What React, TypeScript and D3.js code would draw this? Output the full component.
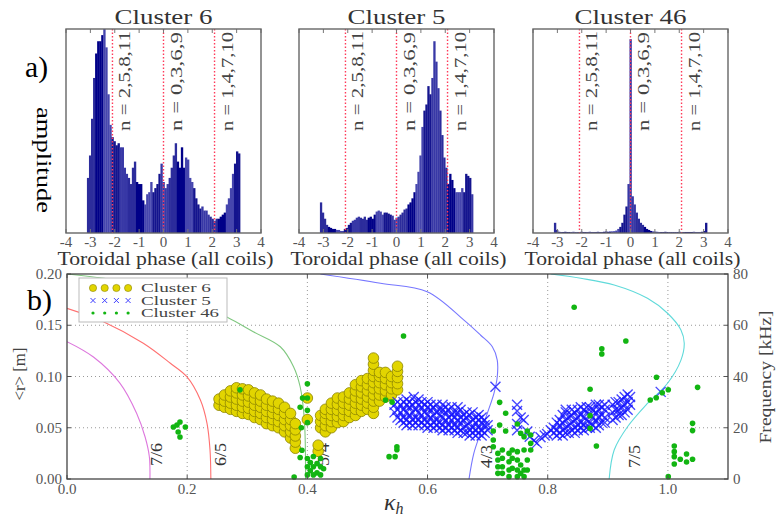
import React from 'react';
import * as d3 from 'd3';

// ---------- top panels (histograms of toroidal phase) ----------
const phaseTicks = [-4, -3, -2, -1, 0, 1, 2, 3, 4];
const panelTitles = ['Cluster 6', 'Cluster 5', 'Cluster 46'];
const modePhases = [-2.094, 0, 2.094];
const modeLabels = ['n = 2,5,8,11', 'n = 0,3,6,9', 'n = 1,4,7,10'];

const hist6 = [
  0.27, 0.38, 0.56, 0.76, 0.88, 0.94, 0.94, 0.97, 1.0, 0.91, 0.68, 0.53, 0.47, 0.45, 0.43,
  0.44, 0.42, 0.42, 0.32, 0.29, 0.27, 0.24, 0.32, 0.35, 0.25, 0.24, 0.24, 0.16, 0.14, 0.19,
  0.2, 0.25, 0.2, 0.22, 0.24, 0.29, 0.34, 0.25, 0.22, 0.24, 0.27, 0.32, 0.38, 0.44, 0.35,
  0.32, 0.42, 0.32, 0.37, 0.36, 0.27, 0.25, 0.22, 0.17, 0.14, 0.12, 0.13, 0.11, 0.11, 0.09,
  0.08, 0.07, 0.06, 0.07, 0.07, 0.08, 0.09, 0.1, 0.14, 0.17, 0.22, 0.29, 0.34, 0.4, 0.39,
];
const hist5 = [
  0.15, 0.1, 0.07, 0.04, 0.03, 0.025, 0.02, 0.02, 0.015, 0.015, 0.01, 0.01, 0.02, 0.025, 0.04,
  0.05, 0.06, 0.065, 0.075, 0.08, 0.075, 0.07, 0.08, 0.065, 0.075, 0.08, 0.07, 0.09, 0.105, 0.11,
  0.105, 0.09, 0.1, 0.1, 0.095, 0.09, 0.085, 0.065, 0.075, 0.08, 0.09, 0.1, 0.115, 0.12, 0.14,
  0.15, 0.17, 0.2, 0.24, 0.3, 0.38, 0.52, 0.6, 0.63, 0.72, 0.68, 0.76, 0.94, 0.84, 0.71,
  0.6, 0.48, 0.37, 0.32, 0.24, 0.29, 0.26, 0.22, 0.2, 0.2, 0.2, 0.22, 0.2, 0.29, 0.28, 0.27, 0.19,
];
const hist46 = [
  0.05, 0.015, 0.006, 0.005, 0.005, 0.006, 0.005, 0.005, 0.005, 0.006, 0.005, 0.005, 0.005, 0.006, 0.005,
  0.005, 0.005, 0.006, 0.005, 0.005, 0.005, 0.006, 0.005, 0.005, 0.006, 0.007, 0.006, 0.007, 0.008, 0.009,
  0.012, 0.02, 0.03, 0.05, 0.09, 0.13, 0.24, 0.95, 0.18, 0.14, 0.1, 0.07, 0.05, 0.04, 0.03,
  0.02, 0.015, 0.01, 0.008, 0.007, 0.006, 0.005, 0.005, 0.005, 0.006, 0.005, 0.005, 0.005, 0.005, 0.005,
  0.005, 0.006, 0.005, 0.005, 0.005, 0.005, 0.005, 0.005, 0.006, 0.005, 0.005, 0.005, 0.006, 0.01, 0.05,
];
const histograms = [hist6, hist5, hist46];

// ---------- bottom panel ----------
const kappaTicks = [0, 0.2, 0.4, 0.6, 0.8, 1.0];
const rTicks = [0, 0.05, 0.1, 0.15, 0.2];
const freqTicks = [0, 20, 40, 60, 80];
const legendNames = ['Cluster 6', 'Cluster 5', 'Cluster 46'];

// resonance curves [kappa, r]
const curve76: [number, number][] = [
  [0, 0.134], [0.044, 0.119], [0.088, 0.0936], [0.116, 0.064], [0.13, 0.041], [0.137, 0.022], [0.138, 0.0],
];
const curve65: [number, number][] = [
  [0, 0.1665], [0.0606, 0.1535], [0.127, 0.1324], [0.172, 0.1129], [0.1994, 0.0998], [0.222, 0.077],
  [0.233, 0.0543], [0.238, 0.0283], [0.2394, 0.0],
];
const curve54: [number, number][] = [
  [0, 0.2], [0.1, 0.192], [0.2, 0.176], [0.266, 0.158], [0.31, 0.1437], [0.355, 0.129], [0.377, 0.1096],
  [0.388, 0.09], [0.395, 0.0576], [0.397, 0.0],
];
const curve43: [number, number][] = [
  [0.4217, 0.2], [0.5217, 0.191], [0.5994, 0.1827], [0.6606, 0.155], [0.688, 0.1405], [0.7078, 0.129],
  [0.716, 0.116], [0.716, 0.0998], [0.7105, 0.0836], [0.6994, 0.064], [0.688, 0.0446], [0.677, 0.025], [0.669, 0.0],
];
const curve75: [number, number][] = [
  [0.805, 0.2], [0.855, 0.1958], [0.9106, 0.1893], [0.966, 0.1763], [0.9994, 0.1617], [1.0217, 0.1454],
  [1.0272, 0.1324], [1.0217, 0.116], [0.9994, 0.0934], [0.966, 0.0738], [0.9328, 0.051], [0.9106, 0.0283], [0.9022, 0.0],
];
const curves = [curve76, curve65, curve54, curve43, curve75];
const curveNames = ['7/6', '6/5', '5/4', '4/3', '7/5'];
const curveColors = ['#dd77dd', '#ff7070', '#80c880', '#7777ff', '#60dada'];

// Cluster 6 : [kappa, r (m)]
const cluster6: [number, number][] = [
  [0.253, 0.072], [0.253, 0.078],
  [0.262, 0.07], [0.262, 0.076], [0.262, 0.082],
  [0.272, 0.068], [0.272, 0.074], [0.272, 0.08], [0.272, 0.086],
  [0.282, 0.066], [0.282, 0.072], [0.282, 0.078], [0.282, 0.084], [0.282, 0.089],
  [0.292, 0.064], [0.292, 0.07], [0.292, 0.076], [0.292, 0.082], [0.292, 0.088],
  [0.302, 0.063], [0.302, 0.069], [0.302, 0.075], [0.302, 0.081], [0.302, 0.087],
  [0.312, 0.06], [0.312, 0.066], [0.312, 0.072], [0.312, 0.078], [0.312, 0.084],
  [0.322, 0.058], [0.322, 0.064], [0.322, 0.07], [0.322, 0.076], [0.322, 0.082],
  [0.332, 0.054], [0.332, 0.06], [0.332, 0.066], [0.332, 0.072], [0.332, 0.078],
  [0.342, 0.052], [0.342, 0.058], [0.342, 0.064], [0.342, 0.07], [0.342, 0.076],
  [0.352, 0.05], [0.352, 0.056], [0.352, 0.062], [0.352, 0.068], [0.352, 0.074],
  [0.362, 0.046], [0.362, 0.052], [0.362, 0.058], [0.362, 0.064], [0.362, 0.07],
  [0.372, 0.04], [0.372, 0.046], [0.372, 0.052], [0.372, 0.058], [0.372, 0.064],
  [0.38, 0.03], [0.38, 0.036], [0.38, 0.042], [0.38, 0.048], [0.38, 0.054],
  [0.4, 0.079], [0.4, 0.058],
  [0.418, 0.027], [0.418, 0.033],
  [0.422, 0.05], [0.422, 0.056], [0.422, 0.062],
  [0.43, 0.046], [0.43, 0.052], [0.43, 0.058], [0.43, 0.064], [0.43, 0.068],
  [0.44, 0.05], [0.44, 0.056], [0.44, 0.062], [0.44, 0.068], [0.44, 0.074],
  [0.45, 0.055], [0.45, 0.061], [0.45, 0.067], [0.45, 0.073], [0.45, 0.079],
  [0.46, 0.056], [0.46, 0.062], [0.46, 0.068], [0.46, 0.074], [0.46, 0.08],
  [0.47, 0.06], [0.47, 0.066], [0.47, 0.072], [0.47, 0.078], [0.47, 0.084],
  [0.48, 0.062], [0.48, 0.068], [0.48, 0.074], [0.48, 0.08], [0.48, 0.086], [0.48, 0.092],
  [0.49, 0.066], [0.49, 0.072], [0.49, 0.078], [0.49, 0.084], [0.49, 0.09], [0.49, 0.096],
  [0.5, 0.068], [0.5, 0.074], [0.5, 0.08], [0.5, 0.086], [0.5, 0.092], [0.5, 0.098],
  [0.51, 0.064], [0.51, 0.07], [0.51, 0.076], [0.51, 0.082], [0.51, 0.088], [0.51, 0.094], [0.51, 0.1], [0.51, 0.106], [0.51, 0.112], [0.51, 0.118],
  [0.52, 0.076], [0.52, 0.082], [0.52, 0.088], [0.52, 0.094], [0.52, 0.1], [0.52, 0.104],
  [0.53, 0.08], [0.53, 0.086], [0.53, 0.092], [0.53, 0.098], [0.53, 0.104],
  [0.54, 0.082], [0.54, 0.088], [0.54, 0.094], [0.54, 0.1],
  [0.55, 0.087], [0.55, 0.093], [0.55, 0.099], [0.55, 0.105], [0.55, 0.11],
];

// Cluster 5 : [kappa, frequency (kHz)]
const cluster5: [number, number][] = [
  [0.545, 26], [0.545, 29],
  [0.55, 24], [0.55, 27], [0.55, 30],
  [0.555, 23], [0.555, 26], [0.555, 29],
  [0.56, 22], [0.56, 24], [0.56, 27], [0.56, 30],
  [0.565, 21], [0.565, 23], [0.565, 26], [0.565, 29], [0.565, 31],
  [0.57, 22], [0.57, 25], [0.57, 28], [0.57, 30],
  [0.575, 21], [0.575, 23], [0.575, 26], [0.575, 29],
  [0.58, 22], [0.58, 24], [0.58, 27], [0.58, 30],
  [0.585, 21], [0.585, 23], [0.585, 26], [0.585, 29], [0.585, 31],
  [0.59, 22], [0.59, 25], [0.59, 28], [0.59, 30],
  [0.595, 21], [0.595, 23], [0.595, 26], [0.595, 29],
  [0.6, 20], [0.6, 22], [0.6, 25], [0.6, 28], [0.6, 30],
  [0.605, 21], [0.605, 24], [0.605, 27], [0.605, 29],
  [0.61, 20], [0.61, 22], [0.61, 25], [0.61, 28],
  [0.615, 21], [0.615, 23], [0.615, 26], [0.615, 29],
  [0.62, 20], [0.62, 22], [0.62, 25], [0.62, 27],
  [0.625, 19], [0.625, 21], [0.625, 24], [0.625, 27], [0.625, 29],
  [0.63, 20], [0.63, 23], [0.63, 26], [0.63, 28],
  [0.635, 19], [0.635, 21], [0.635, 24], [0.635, 27],
  [0.64, 20], [0.64, 23], [0.64, 25], [0.64, 28],
  [0.645, 19], [0.645, 21], [0.645, 24], [0.645, 26],
  [0.65, 18], [0.65, 20], [0.65, 23], [0.65, 26], [0.65, 28],
  [0.655, 19], [0.655, 22], [0.655, 24], [0.655, 27],
  [0.66, 18], [0.66, 20], [0.66, 23], [0.66, 25],
  [0.665, 18], [0.665, 21], [0.665, 24], [0.665, 26],
  [0.67, 17], [0.67, 19], [0.67, 22], [0.67, 25],
  [0.675, 18], [0.675, 20], [0.675, 23], [0.675, 26],
  [0.68, 17], [0.68, 19], [0.68, 22], [0.68, 24],
  [0.685, 18], [0.685, 20], [0.685, 23], [0.685, 25],
  [0.69, 17], [0.69, 19], [0.69, 22], [0.69, 24],
  [0.695, 18], [0.695, 21], [0.695, 23],
  [0.7, 19], [0.7, 21],
  [0.577, 32], [0.713, 36],
  [0.749, 29], [0.749, 26.5], [0.749, 21.5], [0.749, 19], [0.755, 24], [0.76, 23], [0.766, 18.5],
  [0.77, 16.5], [0.777, 15], [0.782, 14], [0.788, 16.3], [0.795, 17], [0.799, 17.6], [0.805, 19], [0.83, 27],
  [0.81, 18], [0.81, 20],
  [0.815, 17], [0.815, 19], [0.815, 22],
  [0.82, 18], [0.82, 21], [0.82, 23],
  [0.825, 17], [0.825, 19], [0.825, 22], [0.825, 25],
  [0.83, 18], [0.83, 20], [0.83, 23], [0.83, 26],
  [0.835, 18], [0.835, 21], [0.835, 24],
  [0.84, 19], [0.84, 22], [0.84, 25], [0.84, 27],
  [0.845, 18], [0.845, 20], [0.845, 23], [0.845, 26],
  [0.85, 19], [0.85, 21], [0.85, 24], [0.85, 27],
  [0.855, 20], [0.855, 22], [0.855, 25], [0.855, 28],
  [0.86, 19], [0.86, 21], [0.86, 24], [0.86, 27],
  [0.865, 20], [0.865, 23], [0.865, 26], [0.865, 28],
  [0.87, 20], [0.87, 22], [0.87, 25], [0.87, 28],
  [0.875, 21], [0.875, 24], [0.875, 27],
  [0.88, 20], [0.88, 23], [0.88, 26], [0.88, 29],
  [0.885, 21], [0.885, 24], [0.885, 27], [0.885, 29],
  [0.89, 22], [0.89, 25], [0.89, 28],
  [0.895, 22], [0.895, 24], [0.895, 27], [0.895, 29],
  [0.908, 23], [0.908, 26], [0.908, 29],
  [0.913, 24], [0.913, 27], [0.913, 30],
  [0.918, 25], [0.918, 27], [0.918, 30],
  [0.923, 25], [0.923, 28], [0.923, 31],
  [0.928, 26], [0.928, 29], [0.928, 32],
  [0.933, 27], [0.933, 30], [0.933, 33],
  [0.937, 29], [0.937, 32],
  [0.988, 34],
];

// Cluster 46 : [kappa, r (m)]
const cluster46: [number, number][] = [
  [0.177, 0.0507], [0.183, 0.0527], [0.188, 0.0556], [0.197, 0.0507], [0.185, 0.0458], [0.188, 0.041],
  [0.288, 0.087],
  [0.4, 0.093], [0.392, 0.079], [0.4, 0.079], [0.4, 0.067], [0.388, 0.07], [0.4, 0.055], [0.39, 0.05],
  [0.391, 0.028], [0.388, 0.021], [0.378, 0.002],
  [0.4, 0.004], [0.4, 0.012], [0.4, 0.02], [0.405, 0.008], [0.405, 0.016], [0.41, 0.004], [0.41, 0.012],
  [0.41, 0.022], [0.416, 0.006], [0.416, 0.015], [0.422, 0.004], [0.422, 0.012], [0.422, 0.02], [0.427, 0.01],
  [0.56, 0.1395], [0.53, 0.077], [0.541, 0.075], [0.549, 0.0315], [0.549, 0.0285], [0.536, 0.0218], [0.546, 0.0218],
  [0.72, 0.0748], [0.73, 0.0641], [0.72, 0.0527], [0.73, 0.0468], [0.7094, 0.0468], [0.7094, 0.038], [0.7094, 0.0315],
  [0.717, 0.025], [0.717, 0.0185], [0.717, 0.012], [0.717, 0.0055],
  [0.7245, 0.0283], [0.7245, 0.0202], [0.7245, 0.012], [0.7245, 0.0055],
  [0.7356, 0.025], [0.7356, 0.0169], [0.7356, 0.0088], [0.7356, 0.0023],
  [0.741, 0.0283], [0.741, 0.0202], [0.741, 0.0105],
  [0.7494, 0.0267], [0.7494, 0.0185], [0.7494, 0.0088], [0.7494, 0.0023],
  [0.755, 0.0137], [0.755, 0.0055],
  [0.7606, 0.0413], [0.7606, 0.0283], [0.7606, 0.0088], [0.7606, 0.0023],
  [0.766, 0.0185], [0.766, 0.0088], [0.7717, 0.0348], [0.7717, 0.0283],
  [0.7494, 0.0537], [0.755, 0.0446], [0.766, 0.0468], [0.7717, 0.0429],
  [0.844, 0.1675], [0.93, 0.1346], [0.89, 0.127], [0.89, 0.122], [0.981, 0.0992], [1.0494, 0.0894],
  [0.8705, 0.0875], [1.0006, 0.0871], [0.9906, 0.0842], [0.9806, 0.0793], [0.9706, 0.0771],
  [0.8705, 0.0618], [0.8705, 0.0494], [1.041, 0.0543], [1.041, 0.0472], [0.881, 0.0322],
  [1.0106, 0.0322], [1.0106, 0.0267], [1.0106, 0.0218], [1.0106, 0.0146], [1.0206, 0.0192],
  [1.031, 0.0244], [1.031, 0.0166], [1.041, 0.0192], [1.0006, 0.0023],
];

const SERIF = '"Liberation Serif", "Times New Roman", serif';
const barShades = ['#2c2c9c', '#000088', '#4646ae', '#14148e', '#3838a6'];

function HistPanel({ x0, data, title, titleLen }: { x0: number; data: number[]; title: string; titleLen: number }) {
  const top = 29, bottom = 233, width = 195;
  const xs = d3.scaleLinear().domain([-4, 4]).range([x0, x0 + width]);
  const ys = d3.scaleLinear().domain([0, 1]).range([bottom, top]);
  const n = data.length;
  const bw = (2 * Math.PI) / n;
  const labelLens = [100, 99, 99];
  return (
    <g>
      {data.map((v, i) => {
        const a = -Math.PI + i * bw;
        return (
          <rect key={i} x={xs(a)} y={ys(v)} width={xs(a + bw) - xs(a) + 0.3} height={bottom - ys(v)}
            fill={barShades[Math.floor(i / 4) % barShades.length]} />
        );
      })}
      {modePhases.map((p, i) => (
        <g key={i}>
          <line x1={xs(p)} x2={xs(p)} y1={top} y2={bottom} stroke="#ff3a5a" strokeWidth={1.4} strokeDasharray="1.5,2" />
          <text transform={`translate(${xs(p) + 18},131) rotate(-90)`} fontFamily={SERIF} fontSize={16} fill="#444"
            textLength={labelLens[i]} lengthAdjust="spacingAndGlyphs">
            {modeLabels[i]}
          </text>
        </g>
      ))}
      {phaseTicks.map((t) => (
        <g key={t}>
          <line x1={xs(t)} x2={xs(t)} y1={top} y2={top + 4} stroke="#777" />
          <line x1={xs(t)} x2={xs(t)} y1={bottom} y2={bottom - 4} stroke="#777" />
          <text x={xs(t)} y={246.5} textAnchor="middle" fontFamily={SERIF} fontSize={15} fill="#555">{t}</text>
        </g>
      ))}
      <rect x={x0} y={top} width={width} height={bottom - top} fill="none" stroke="#666" strokeWidth={1.4} />
      <text x={x0 + width / 2} y={24} textAnchor="middle" fontFamily={SERIF} fontSize={20} fill="#333"
        textLength={titleLen} lengthAdjust="spacingAndGlyphs">{title}</text>
      <text x={x0 + width / 2 + 2} y={265} textAnchor="middle" fontFamily={SERIF} fontSize={18} fill="#333"
        textLength={216} lengthAdjust="spacingAndGlyphs">
        Toroidal phase (all coils)
      </text>
    </g>
  );
}

export default function App() {
  const L = 67, R = 728, T = 274, B = 479;
  const xK = d3.scaleLinear().domain([0, 1.1]).range([L, R]);
  const yR = d3.scaleLinear().domain([0, 0.2]).range([B, T]);
  const yF = d3.scaleLinear().domain([0, 80]).range([B, T]);
  const line = d3.line<[number, number]>().x((d) => xK(d[0])).y((d) => yR(d[1])).curve(d3.curveCatmullRom.alpha(0.5));
  const labelPos: [number, number][] = [[162, 466], [226, 466], [329, 466], [492, 468], [640, 468]];
  const xSize = 5;

  return (
    <svg width={779} height={519} style={{ position: 'absolute', left: 0, top: 0, background: '#fff' }}>
      <rect width={779} height={519} fill="#fff" />
      {histograms.map((h, i) => (
        <HistPanel key={i} x0={[66, 299, 533][i]} data={h} title={panelTitles[i]} titleLen={[98, 98, 112][i]} />
      ))}
      <text x={25} y={77} fontFamily={SERIF} fontSize={29} fill="#000" textLength={23} lengthAdjust="spacingAndGlyphs">a)</text>
      <text transform="translate(37,160) rotate(90)" textAnchor="middle" fontFamily={SERIF} fontSize={22} fill="#000"
        textLength={106} lengthAdjust="spacingAndGlyphs">amplitude</text>

      {/* bottom panel */}
      <defs>
        <clipPath id="clipB"><rect x={L} y={T} width={R - L} height={B - T} /></clipPath>
      </defs>
      {kappaTicks.slice(1).map((t) => (
        <line key={t} x1={xK(t)} x2={xK(t)} y1={T} y2={B} stroke="#999" strokeDasharray="1,3" />
      ))}
      {rTicks.slice(1, -1).map((t) => (
        <line key={t} x1={L} x2={R} y1={yR(t)} y2={yR(t)} stroke="#999" strokeDasharray="1,3" />
      ))}
      <g clipPath="url(#clipB)">
        {curves.map((c, i) => (
          <path key={i} d={line(c) || ''} fill="none" stroke={curveColors[i]} strokeWidth={1.1} />
        ))}
      </g>
      {curveNames.map((nm, i) => (
        <text key={nm} transform={`translate(${labelPos[i][0]},${labelPos[i][1]}) rotate(-90)`} fontFamily={SERIF}
          fontSize={16} fill="#333" textLength={23} lengthAdjust="spacingAndGlyphs">{nm}</text>
      ))}
      <g>
        {cluster6.map((d, i) => (
          <circle key={i} cx={xK(d[0])} cy={yR(d[1])} r={5.3} fill="#e2d500" stroke="#8c8400" strokeWidth={0.8} />
        ))}
      </g>
      <g stroke="#1818ff" strokeWidth={1.4} strokeOpacity={0.8}>
        {cluster5.map((d, i) => {
          const cx = xK(d[0]), cy = yF(d[1]);
          return (
            <path key={i} d={`M${cx - xSize},${cy - xSize}L${cx + xSize},${cy + xSize}M${cx - xSize},${cy + xSize}L${cx + xSize},${cy - xSize}`} />
          );
        })}
      </g>
      <g>
        {cluster46.map((d, i) => (
          <circle key={i} cx={xK(d[0])} cy={yR(d[1])} r={2.8} fill="#12b512" />
        ))}
      </g>

      {/* axes */}
      {kappaTicks.map((t) => (
        <g key={t}>
          <line x1={xK(t)} x2={xK(t)} y1={B} y2={B - 4} stroke="#555" />
          <line x1={xK(t)} x2={xK(t)} y1={T} y2={T + 4} stroke="#555" />
          <text x={xK(t)} y={493.5} textAnchor="middle" fontFamily={SERIF} fontSize={15} fill="#555">{d3.format('.1f')(t)}</text>
        </g>
      ))}
      {rTicks.map((t) => (
        <g key={t}>
          <line x1={L} x2={L + 4} y1={yR(t)} y2={yR(t)} stroke="#555" />
          <text x={62} y={yR(t) + 5} textAnchor="end" fontFamily={SERIF} fontSize={15} fill="#555">{d3.format('.2f')(t)}</text>
        </g>
      ))}
      {freqTicks.map((t) => (
        <g key={t}>
          <line x1={R} x2={R - 4} y1={yF(t)} y2={yF(t)} stroke="#555" />
          <text x={733} y={yF(t) + 5} textAnchor="start" fontFamily={SERIF} fontSize={15} fill="#555">{t}</text>
        </g>
      ))}
      <rect x={L} y={T} width={R - L} height={B - T} fill="none" stroke="#444" strokeWidth={1.3} />
      <text transform="translate(25,374) rotate(-90)" textAnchor="middle" fontFamily={SERIF} fontSize={17} fill="#444"
        textLength={53} lengthAdjust="spacingAndGlyphs">{'<r> [m]'}</text>
      <text transform="translate(771,377) rotate(-90)" textAnchor="middle" fontFamily={SERIF} fontSize={17} fill="#444"
        textLength={133} lengthAdjust="spacingAndGlyphs">Frequency [kHz]</text>
      <text x={384} y={510} fontFamily={SERIF} fontStyle="italic" fontSize={24} fill="#333">
        κ<tspan dy={4} fontSize={16}>h</tspan>
      </text>
      <text x={27} y={310} fontFamily={SERIF} fontSize={29} fill="#000" textLength={25} lengthAdjust="spacingAndGlyphs">b)</text>

      {/* legend */}
      <g>
        <rect x={79} y={278} width={148} height={44} fill="#fff" stroke="#bbb" strokeWidth={1} />
        {legendNames.map((nm, i) => {
          const cy = 288 + i * 12.5;
          return (
            <g key={nm}>
              {[0, 1, 2, 3].map((k) => {
                const cx = 93 + k * 11.7;
                if (i === 0) return <circle key={k} cx={cx} cy={cy} r={3.6} fill="#e2d500" stroke="#8c8400" strokeWidth={0.6} />;
                if (i === 1) return <path key={k} d={`M${cx - 2.5},${cy - 2.5}L${cx + 2.5},${cy + 2.5}M${cx - 2.5},${cy + 2.5}L${cx + 2.5},${cy - 2.5}`} stroke="#4040ff" strokeWidth={1} />;
                return <circle key={k} cx={cx} cy={cy} r={1.6} fill="#12b512" />;
              })}
              <text x={141} y={cy + 4} fontFamily={SERIF} fontSize={12} fill="#444"
                textLength={i === 2 ? 78 : 70} lengthAdjust="spacingAndGlyphs">{nm}</text>
            </g>
          );
        })}
      </g>
    </svg>
  );
}
